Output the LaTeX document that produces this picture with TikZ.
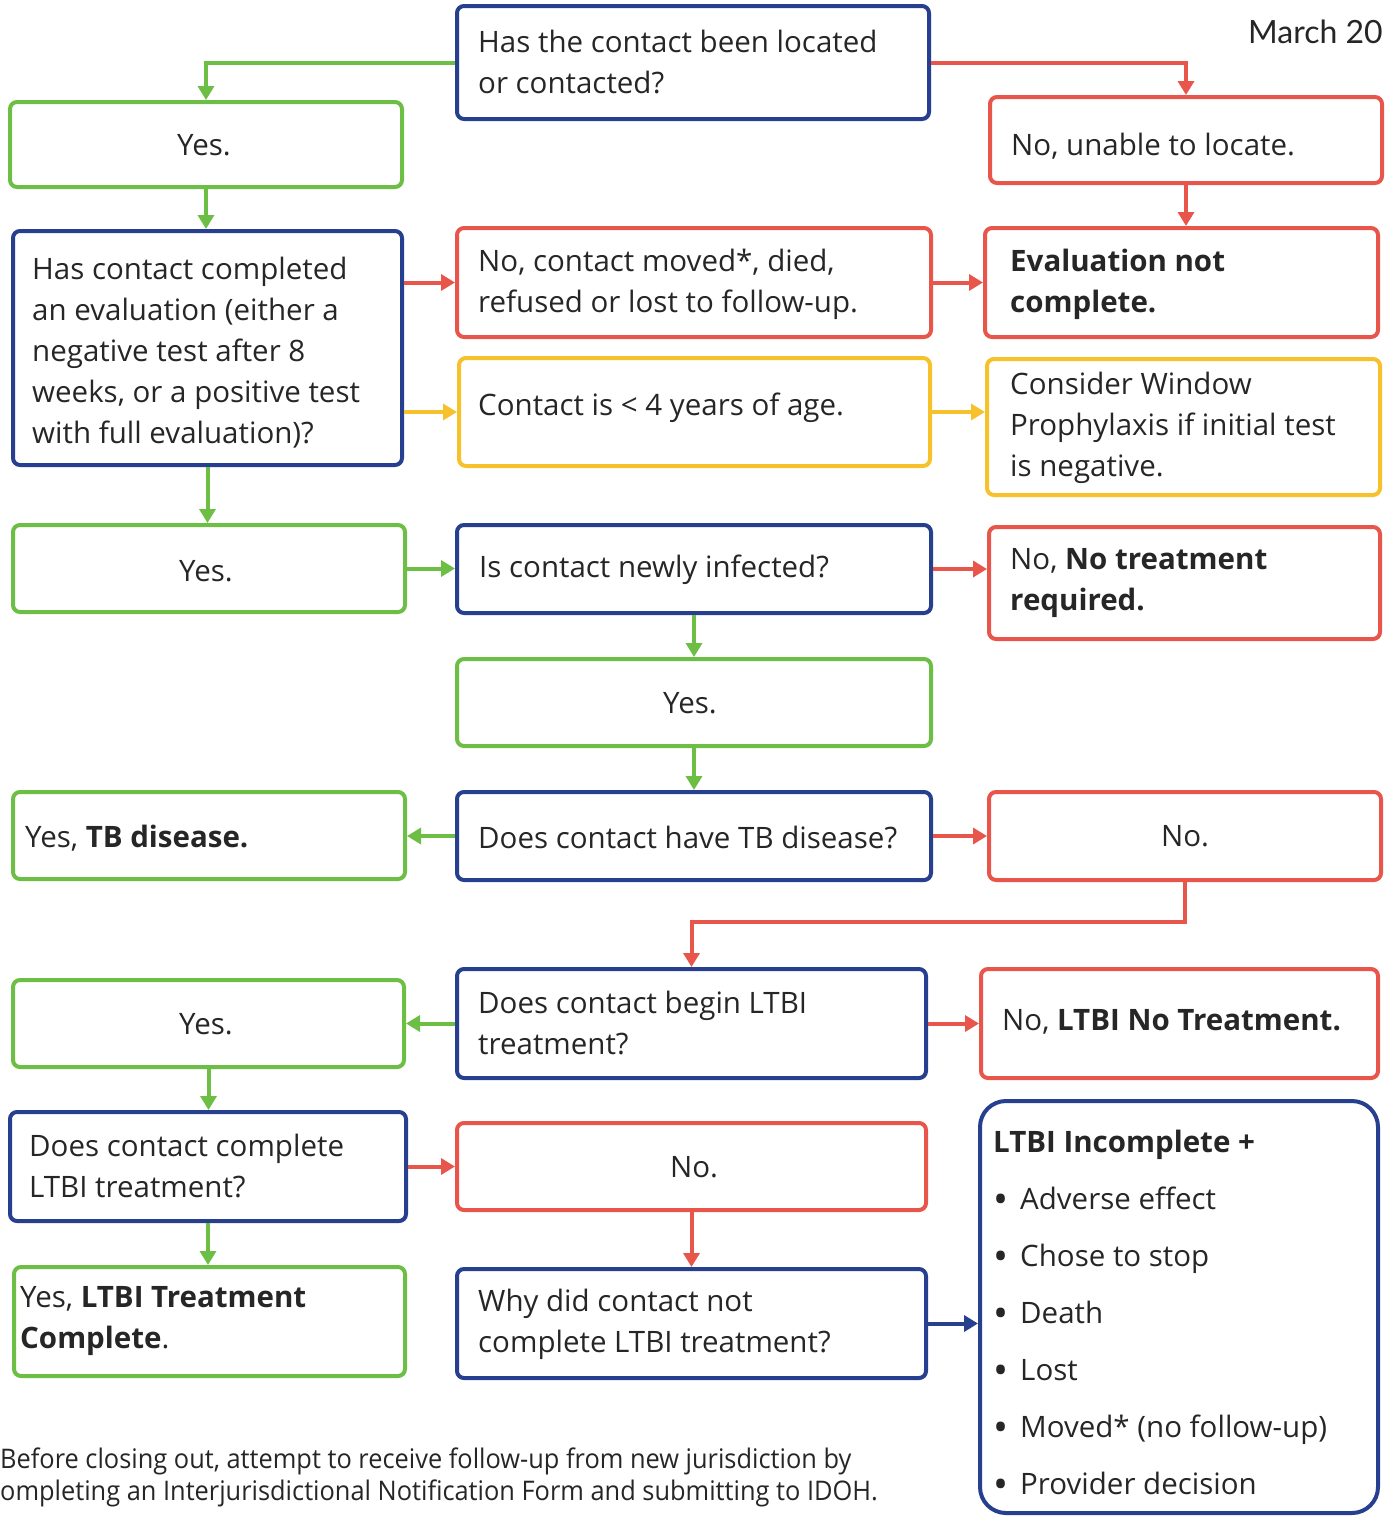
\documentclass[tikz,border=0pt]{standalone}
\usepackage{fontspec}
\setmainfont{Open Sans}
\newfontfamily\footf[FakeStretch=0.94]{Open Sans}
\newfontfamily\datef{Lato}
\usetikzlibrary{arrows.meta,fit}
\definecolor{cgreen}{HTML}{6CBF44}
\definecolor{cred}{HTML}{E8554A}
\definecolor{cblue}{HTML}{263F8F}
\definecolor{cyel}{HTML}{F7C12B}
\definecolor{ctxt}{HTML}{262626}
\newcommand{\bul}{\makebox[27pt][l]{\fontsize{40}{0}\selectfont\raisebox{-4pt}{•}}}
\tikzset{
  box/.style={draw=#1, line width=4pt, rounded corners=7pt, inner sep=0pt},
  lbl/.style={inner sep=0pt, align=left, anchor=west, text=ctxt, yshift=-3pt, font=\fontsize{29.5}{41}\selectfont},
  clbl/.style={inner sep=0pt, align=center, anchor=center, text=ctxt, yshift=-2pt, font=\fontsize{29.5}{41}\selectfont},
  conn/.style={draw=#1, line width=4pt, -{Triangle[length=14pt,width=16pt]}}
}
\begin{document}
\begin{tikzpicture}[x=1pt,y=-1pt]
\useasboundingbox (0,0) rectangle (1387,1516);
% boxes
\node[box=cblue, fit={(457,6) (929,119)}] (q1) {};
\node[box=cgreen, fit={(10,102) (402,187)}] (yes1) {};
\node[box=cred, fit={(990,97) (1382,183)}] (noloc) {};
\node[box=cblue, fit={(13,231) (402,465)}] (q2) {};
\node[box=cred, fit={(457,228) (931,337)}] (nomoved) {};
\node[box=cred, fit={(985,228) (1378,337)}] (evalnot) {};
\node[box=cyel, fit={(459,358) (930,466)}] (age) {};
\node[box=cyel, fit={(987,359) (1380,495)}] (window) {};
\node[box=cgreen, fit={(13,525) (405,612)}] (yes2) {};
\node[box=cblue, fit={(457,525) (931,613)}] (q3) {};
\node[box=cred, fit={(989,527) (1380,639)}] (ntr) {};
\node[box=cgreen, fit={(457,659) (931,746)}] (yes3) {};
\node[box=cgreen, fit={(13,792) (405,879)}] (yestb) {};
\node[box=cblue, fit={(457,792) (931,880)}] (q4) {};
\node[box=cred, fit={(989,792) (1381,880)}] (no4) {};
\node[box=cgreen, fit={(13,980) (404,1067)}] (yes5) {};
\node[box=cblue, fit={(457,969) (926,1078)}] (q5) {};
\node[box=cred, fit={(981,969) (1378,1078)}] (noltbi) {};
\node[box=cblue, fit={(10,1112) (406,1221)}] (q6) {};
\node[box=cred, fit={(457,1123) (926,1210)}] (no6) {};
\node[box=cgreen, fit={(14,1267) (405,1376)}] (yc) {};
\node[box=cblue, fit={(457,1269) (926,1378)}] (why) {};
\node[box=cblue, rounded corners=26pt, fit={(980,1101) (1378,1513)}] (inc) {};
% labels
\node[lbl] (q1t) at (478,59) {Has the contact been located\\or contacted?};
\node[clbl] (yes1t) at (204,143) {Yes.};
\node[lbl] (noloct) at (1011,143) {No, unable to locate.};
\node[lbl] (q2t) at (32,350) {Has contact completed\\an evaluation (either a\\negative test after 8\\weeks, or a positive test\\with full evaluation)?};
\node[lbl] (nomovedt) at (478,281) {No, contact moved*, died,\\refused or lost to follow-up.};
\node[lbl] (evalnott) at (1010,281) {\textbf{Evaluation not}\\\textbf{complete.}};
\node[lbl] (aget) at (478,405) {Contact is < 4 years of age.};
\node[lbl] (windowt) at (1010,425) {Consider Window\\Prophylaxis if initial test\\is negative.};
\node[clbl] (yes2t) at (206,569) {Yes.};
\node[lbl] (q3t) at (479,567) {Is contact newly infected?};
\node[lbl] (ntrt) at (1010,580) {No, \textbf{No treatment}\\\textbf{required.}};
\node[clbl] (yes3t) at (690,701) {Yes.};
\node[lbl] (yestbt) at (25,835) {Yes, \textbf{TB disease.}};
\node[lbl] (q4t) at (478,834) {Does contact have TB disease?};
\node[clbl] (no4t) at (1185,834) {No.};
\node[clbl] (yes5t) at (206,1022) {Yes.};
\node[lbl] (q5t) at (478,1020) {Does contact begin LTBI\\treatment?};
\node[lbl] (noltbit) at (1002,1019) {No, \textbf{LTBI No Treatment.}};
\node[lbl] (q6t) at (29,1163) {Does contact complete\\LTBI treatment?};
\node[clbl] (no6t) at (694,1165) {No.};
\node[lbl] (yct) at (20,1318) {Yes, \textbf{LTBI Treatment}\\\textbf{Complete}.};
\node[lbl] (whyt) at (478,1321) {Why did contact not\\complete LTBI treatment?};
\node[lbl, font=\fontsize{29.5}{57}\selectfont] (inct) at (993,1311) {\textbf{LTBI Incomplete +}\\
\bul Adverse effect\\
\bul Chose to stop\\
\bul Death\\
\bul Lost\\
\bul Moved* (no follow-up)\\
\bul Provider decision};
\node[lbl, font=\footf\fontsize{27}{32}\selectfont] (foot) at (0,1474) {Before closing out, attempt to receive follow-up from new jurisdiction by\\ompleting an Interjurisdictional Notification Form and submitting to IDOH.};
\node[inner sep=0pt, anchor=west, text=ctxt, font=\datef\fontsize{32}{36}\selectfont] (date) at (1248,32) {March 20};
% connectors
\draw[conn=cgreen] (q1.west) -| (yes1.north);
\draw[conn=cred] (q1.east) -| (noloc.north);
\draw[conn=cgreen] (yes1.south) -- (yes1.south |- q2.north);
\draw[conn=cred] (noloc.south) -- (noloc.south |- evalnot.north);
\draw[conn=cred] (q2.east |- nomoved.west) -- (nomoved.west);
\draw[conn=cyel] (q2.east |- age.west) -- (age.west);
\draw[conn=cred] (nomoved.east) -- (nomoved.east -| evalnot.west);
\draw[conn=cyel] (age.east) -- (age.east -| window.west);
\draw[conn=cgreen] (q2.south) -- (q2.south |- yes2.north);
\draw[conn=cgreen] (yes2.east) -- (yes2.east -| q3.west);
\draw[conn=cred] (q3.east) -- (q3.east -| ntr.west);
\draw[conn=cgreen] (q3.south) -- (q3.south |- yes3.north);
\draw[conn=cgreen] (yes3.south) -- (yes3.south |- q4.north);
\draw[conn=cgreen] (q4.west) -- (q4.west -| yestb.east);
\draw[conn=cred] (q4.east) -- (q4.east -| no4.west);
\path (no4.south) ++(0,40) coordinate (elbow);
\draw[conn=cred] (no4.south) -- (elbow) -| (q5.north);
\draw[conn=cgreen] (q5.west) -- (q5.west -| yes5.east);
\draw[conn=cred] (q5.east) -- (q5.east -| noltbi.west);
\draw[conn=cgreen] (yes5.south) -- (yes5.south |- q6.north);
\draw[conn=cred] (q6.east) -- (q6.east -| no6.west);
\draw[conn=cgreen] (q6.south) -- (q6.south |- yc.north);
\draw[conn=cred] (no6.south) -- (no6.south |- why.north);
\draw[conn=cblue] (why.east) -- (why.east -| inc.west);
\end{tikzpicture}
\end{document}
